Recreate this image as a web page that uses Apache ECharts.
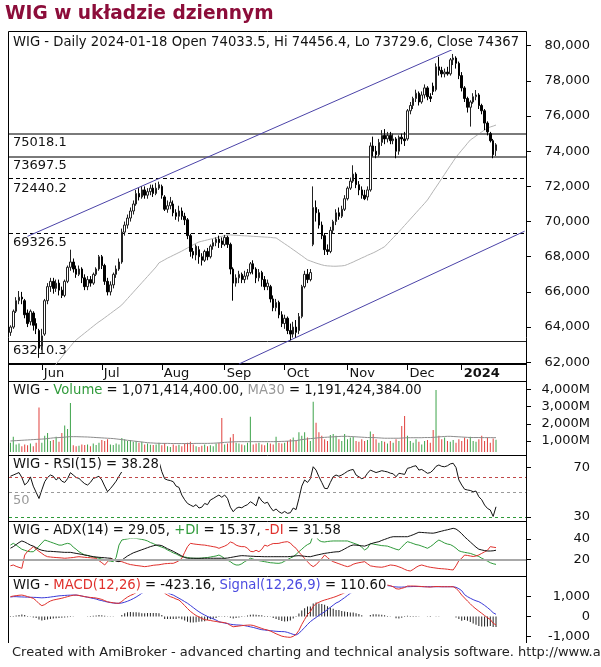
<!DOCTYPE html>
<html><head><meta charset="utf-8">
<script src="https://cdn.jsdelivr.net/npm/echarts@6/dist/echarts.min.js"></script>
<style>html,body{margin:0;padding:0;background:#fff}#c{width:601px;height:667px}</style>
</head><body><div id="c"></div>
<script>
const FONT = 'DejaVu Sans';
// ---- calendar (GPW trading days) ----
const startDate = '2023-05-17';
const holidays = ['2023-06-08','2023-08-15','2023-11-01','2023-12-25','2023-12-26','2024-01-01'];
const slotCount = 181; // 171 sessions + empty space on the right
function buildDates(start, count, skip){
  const out=[]; const d=new Date(start+'T00:00:00Z');
  while(out.length<count){const s=d.toISOString().slice(0,10);const wd=d.getUTCDay();
    if(wd!==0&&wd!==6&&skip.indexOf(s)<0) out.push(s); d.setUTCDate(d.getUTCDate()+1);}
  return out;
}
const dates = buildDates(startDate, slotCount, holidays);

// ---- price candles [open, close, low, high] ----
const candles = [
[63700,64000,63500,64100],[64000,64900,63900,65000],[64900,65500,64800,65700],[65500,65700,65300,66050],[65700,65600,65300,66000],
[65500,64700,64500,65600],[64800,64200,64000,65000],[64300,64900,64100,65000],[64800,64100,63800,64900],[64200,63900,63600,64500],
[63800,62800,62250,63900],[62900,63500,62700,63900],[63600,65500,63500,65600],[65500,66300,65300,66500],[66300,66600,66000,66800],
[66600,66200,65900,66800],[66200,66500,66000,66700],[66500,66100,65800,66700],[66100,65800,65650,66300],[65800,66600,65700,66700],
[66600,67400,66500,67500],[67400,67700,67200,68400],[67700,67300,67100,67900],[67300,67000,66800,67500],[67000,67300,66900,67500],
[67300,66800,66500,67400],[66800,66300,66100,67000],[66300,66700,66100,66900],[66700,66500,66300,66900],[66500,67000,66400,67100],
[67000,67300,66900,67400],[67300,68000,67200,68100],[68000,67500,67300,68100],[67500,66600,66400,67600],[66600,66000,65800,66800],
[66000,66400,65800,66600],[66400,67000,66200,67100],[67000,67300,66800,67500],[67300,67700,67200,67900],[67700,69400,67600,69600],
[69400,69800,69200,70000],[69800,70200,69600,70400],[70200,70600,70000,70800],[70600,71000,70400,71200],[71000,71600,70900,71800],
[71600,71400,71200,71900],[71400,71800,71300,72000],[71800,71500,71300,72000],[71500,71700,71300,71900],[71700,71900,71500,72100],
[71900,71600,71400,72100],[71600,71900,71500,72200],[71900,72100,71800,72270],[72000,71500,71300,72100],[71400,70700,70600,71500],
[70700,70900,70500,71200],[70900,71100,70700,71400],[71000,70500,70300,71200],[70500,70300,70100,70700],[70300,70600,70000,70900],
[70600,70300,70100,70800],[70300,70100,69800,70500],[70100,69200,69000,70200],[69200,68300,68000,69300],[68300,68100,67900,68500],
[68100,68600,67800,68700],[68400,68000,67600,68600],[68000,67800,67500,68200],[67800,68300,67700,68400],[68300,68000,67800,68500],
[68000,68600,67900,68700],[68600,68800,68400,69000],[68800,69000,68600,69100],[69000,68800,68500,69200],[68900,68700,68500,69100],
[68700,69100,68600,69240],[69100,68700,68500,69200],[68700,67300,67000,68800],[67300,66500,65500,67400],[66500,66800,66300,67000],
[66800,67000,66500,67200],[67000,66700,66500,67100],[66700,66900,66500,67200],[66900,67100,66700,67300],[67100,67600,67000,67700],
[67600,67300,67000,67800],[67300,66800,66500,67400],[66800,67100,66600,67300],[67100,66700,66300,67200],[66700,66300,66100,66900],
[66300,66500,66100,66700],[66300,65600,65400,66400],[65600,65100,64900,65800],[65100,65400,64900,65600],[65400,64700,64500,65500],
[64700,64200,64000,64900],[64200,64500,63900,64700],[64500,63800,63600,64600],[63800,63600,63250,64200],[63600,64000,63400,64300],
[64000,63700,63400,64400],[63800,64600,63600,64800],[64600,66300,64500,66400],[66300,67000,66200,67200],[67000,66700,66500,67300],
[66700,67100,66600,67300],[68700,70800,68600,72000],[70800,70500,70000,71200],[70500,69800,69600,70700],[69800,69200,69000,70000],
[69200,68400,68100,69300],[68400,68300,68100,68700],[68300,69500,68200,69700],[69500,70000,69300,70100],[70000,70500,69800,70700],
[70500,70300,70100,70800],[70300,70700,70200,70900],[70700,71300,70600,71500],[71300,71900,71200,72000],[71900,72300,71800,72500],
[72300,72700,72200,73200],[72700,72100,71900,72800],[72100,71800,71500,72300],[71800,71500,71300,72000],[71500,71300,71220,71800],
[71400,71800,71200,72000],[71800,74300,71700,74500],[74300,74000,73700,74830],[74000,73800,73600,74300],[73800,74500,73700,74700],
[74500,74900,74300,75200],[74900,74700,74400,75260],[74700,74900,74500,75100],[74900,74600,74400,75100],[74600,74700,74400,75000],
[74700,74000,73600,74800],[74000,74800,73800,74900],[74800,74700,74400,75000],[74700,74600,74300,75100],[74700,76300,74600,76400],
[76300,76600,76100,76800],[76600,77000,76400,77100],[77000,77300,76800,77500],[77300,76800,76600,77400],[76800,77200,76700,77400],
[77200,77600,77000,77800],[77600,77100,76900,77700],[77100,77000,76800,77300],[77700,77400,77200,77900],[77500,78800,77400,79000],
[78800,78600,78300,79370],[78600,78400,78200,78800],[78400,78500,78200,78700],[78500,78400,78300,78800],[78400,79200,78300,79300],
[79200,79300,78900,79530],[79300,79000,78700,79400],[79000,78300,78100,79100],[78300,77600,77400,78500],[77600,77000,76800,77700],
[77000,76500,76200,77100],[76500,76800,75400,76900],[76800,77100,76700,77300],[77100,77200,76900,77480],[77200,76600,76400,77300],
[76600,76300,76100,76700],[76300,75600,75200,76400],[75600,75100,74900,75700],[75000,74600,74500,75100],[74600,73800,73600,74700],
[74033.5,74367,73729.6,74456.4]
];
// gray moving average on the price panel
const priceMA = [
59000,59200,59400,59600,59800,60000,60200,60400,60600,60800,61000,61150,61300,61450,61600,61750,61900,62100,62300,62500,
62700,62900,63100,63270,63400,63530,63660,63790,63920,64050,64180,64300,64410,64530,64650,64770,64890,65010,65130,65260,
65440,65620,65800,65980,66160,66340,66520,66700,66880,67060,67240,67420,67650,67740,67830,67920,68000,68080,68160,68240,
68320,68410,68500,68590,68680,68760,68840,68880,68920,68960,69000,69040,69080,69120,69160,69200,69240,69240,69230,69220,
69210,69200,69190,69180,69170,69160,69150,69140,69130,69120,69110,69100,69080,69070,68960,68850,68740,68630,68520,68400,
68290,68170,68060,67940,67820,67760,67700,67640,67590,67540,67500,67480,67470,67460,67460,67470,67480,67500,67560,67630,
67700,67780,67850,67930,68000,68080,68150,68220,68300,68390,68480,68570,68740,68910,69080,69250,69420,69600,69780,69960,
70140,70320,70500,70680,70860,71040,71230,71470,71720,71960,72200,72450,72690,72940,73180,73420,73670,73860,74060,74250,
74450,74640,74750,74870,74980,75100,75210,75320,75380,75430,75490
];
// volume, millions
const volume = [
900,1250,800,850,700,800,750,850,700,900,2940,
900,1300,1470,1000,1050,1250,950,1470,1900,1700,3200,750,700,720,800,760,800,700,850,760,900,
1050,1000,1100,800,760,850,800,1170,1100,1000,1050,950,1000,900,950,800,850,780,760,800,900,
750,880,700,650,800,720,780,700,850,900,950,800,700,650,720,800,700,750,700,850,900,2340,
800,850,1200,1400,900,850,800,750,900,2400,800,850,900,800,750,900,850,800,1250,900,850,
900,1000,1100,1200,1000,1500,1300,1500,1200,1000,3280,2060,1500,1300,1100,1000,1350,1400,1300,1100,1000,1400,
1100,1200,1250,1000,950,1100,1000,1050,1550,1400,1100,900,1000,950,850,1000,900,1100,1000,1870,2450,
1300,1000,900,1100,950,800,1000,1050,900,1640,3960,1300,1100,1200,1000,950,1050,900,1100,
1000,1200,1100,1250,1000,950,1100,1300,1000,1200,900,1150,1071.4144
];
const volumeMA30 = [
1000,1010,1020,1030,1040,1050,1060,1070,1080,1090,1100,1110,1120,1140,1160,1180,1190,1200,1210,1220,1240,
1250,1250,1250,1245,1240,1235,1230,1220,1210,1200,1190,1180,1170,1160,1150,1140,1120,1100,1080,1060,
1040,1020,1000,980,960,940,920,900,890,880,870,865,860,860,860,855,850,850,850,850,
850,850,850,855,860,860,860,860,860,865,870,880,890,900,920,930,940,950,955,960,
960,960,960,960,960,960,960,960,960,960,960,960,965,970,975,980,990,1000,1010,1020,
1050,1080,1100,1120,1140,1150,1170,1190,1200,1210,1220,1230,1240,1250,1260,1270,1270,1270,1260,1250,
1240,1230,1220,1210,1200,1200,1200,1190,1180,1170,1160,1160,1160,1160,1160,1160,1170,1180,1190,1190,
1190,1190,1190,1190,1200,1200,1200,1210,1220,1240,1250,1260,1270,1270,1260,1250,1240,1230,1220,1210,
1200,1200,1200,1200,1195,1195,1195,1195,1192,1191.4244
];
const rsi = [
63,64,65,66,62,56,58,62.5,55,50,45,52,58.6,62,64,63,60,62,59,58,61,65.9,64,62,61.3,59,57,55.9,58,61.3,62,63,
60,55,50.5,53,55.9,59,63,66.7,69,71,72,73,75,74,75,73,74,75,73,74,75,
66.7,61,60,59.5,58.6,55,54,47.8,44,41,39.7,38.5,40,37.3,38,41,40,43.8,45,46.5,47.8,46,
47.8,45,38,34.3,37,38,37.5,39,40,42.4,41,39,46.4,43,41.1,42,38,35,36.5,34.3,33,
34.5,33,33.5,37.3,36,45,55,60,58,61,70.7,68,62.6,58,53.2,53,58,62.6,64,63,64,65.4,
67,68,68.5,64,62.6,61,62,65.4,68,67,66,66.7,67.5,67,66.5,65.5,65,62.6,65.4,65,64.5,
69.4,70,71,71.5,68,68.5,67,65.4,66,68,71,72.1,71,70.7,71.5,73,73.5,70,60,
55.9,52.5,51.9,51.5,50.5,51,46.4,44,39.7,37,35.7,30.5,38.28
];
const adx = [
31,32.5,34.5,36.5,38,37,35.5,34,33,31.5,30,29,28.5,28,28,27.8,27.6,27.4,27.2,27,27,27,26.5,26,25.5,25,24.5,24,23.4,22.8,22.5,22.2,
22,21.8,21.5,21.3,20,18.5,18,19.5,21.5,23.5,25,26.5,27.5,28.5,29.5,30.5,31.5,32.5,33.3,34,34,
33.5,32,30.5,29.3,28,26.5,25,23.5,22,21.3,21.3,21.3,21.2,21.2,21.2,21.3,21.3,21.3,21.3,21.3,21.3,21.3,
21.3,21.5,22,22.5,23,23.5,23.8,23.7,23.5,23.3,23.2,23,23,22.9,22.8,22.8,22.8,22.8,22.8,22.8,22.8,
22.8,22.8,23,23.3,23.6,23.8,23.5,23.2,22.9,22.8,23.5,24.2,24.8,25.4,26,26.4,26.8,27.2,27.5,27.6,28.8,30.3,
31.8,33.3,34.1,34,33.6,33.3,33,34,35,36,36.7,37.3,38.5,39.5,40.5,41.5,42.1,42.1,42.1,42.1,42.1,
42.1,43,44,45.2,46.4,46.2,46,45.8,45.6,45.5,46,46.8,47.5,48.2,48.8,49.5,50.2,49.5,47.5,
45,42,39.5,37,34.5,32,30,29.3,28.7,28.3,28.3,28.5,29.05
];
const plusDI = [
34,35.7,34,32,30,29,28,27.6,27.6,30,33,36,38.9,38,37,36,35,34,34,35,35.7,35,32,30,27.6,26,24.4,24,23,22.5,22,21.3,
20.5,20,19,18.5,18,22,34,38.9,39.5,40,40.5,40.6,40.5,40,39.5,38.9,38,36.5,35.5,34,33,
32,31,29.3,28,26.5,25.5,24,22.8,22.5,22,21.5,21.3,21.3,21.3,21.5,21.8,22,22.5,23,23.5,24.4,23,
21,19.5,18,16,14.8,14.8,16,18,19.5,21.3,20.5,19.5,19,18.5,18,17.5,17,16.8,16.5,16.4,17,
18.5,20,21.5,22.8,25,27.6,30,32.5,34.5,35.8,44,42,38.5,37.3,37,37.5,37.8,38,38,38,38,38,
38,37,36,35,34.1,32,29.3,31,35.7,35,34.5,34,33.5,33.3,33,32,31,30,29.3,32,35,
37.3,36.5,35.5,34.5,34,33,32,30.9,32.5,34.5,37,38.9,37.5,36,35,34.5,33,31,28.5,
27.6,27,26.5,26,25,24,23,21.3,20,18.5,17,16,15.37
];
const minusDI = [
14,14.8,13.5,12.5,11.6,24.4,28,30,32.5,30,28,26,24,22.8,22.5,22.2,22,21.8,21.6,21.3,21.5,21.8,22,22.5,22.8,22.5,22.2,22,21.8,21.5,21.3,19,
17,14.8,18,21.3,20,19,18.5,18,17,16,15.2,14.8,14.3,14,13.6,13.2,13.5,14,14.5,14.8,15,
15.5,16,16.2,16.4,16.4,17.5,19,21.3,27,32.5,35.7,35.2,34.8,34.5,34.2,34,33.5,33,32.5,32,30.9,32,
33,34.5,37,36,34,33,32.5,32.5,31,28,27.6,29,27.6,30,34,33,34.5,35.5,35.5,35.7,36.5,
37,37.3,36,33,30.9,27,24.4,21,18,15,13.2,15,18,21,24.4,22,19.6,18,17,16,15,14,
13.2,14,15.5,16.4,17,17.5,18,16,14,13.5,13,12.8,12.6,13.2,14,14.8,14.5,14,13,12,10.6,
9.5,9,10.5,12.5,14,14.8,14,13.2,12.6,12.2,11.8,11.4,11.2,11,10.7,10.3,10,14,19,
21.3,24.4,24,23.5,23,23.5,24.5,26,27.5,29,32.5,32,31.58
];
const macd = [
1000,1030,1050,1070,1080,1050,1000,960,915,800,650,545,600,700,780,830,860,890,920,960,1000,1040,1070,1080,1060,1030,1000,980,960,950,930,900,
860,800,740,715,690,670,665,760,880,980,1060,1120,1200,1270,1335,1420,1500,1560,1600,1620,1600,
1480,1170,1080,1000,950,880,830,700,550,400,260,150,50,-20,-100,-160,-180,-200,-230,-250,-280,-290,
-310,-350,-450,-515,-500,-480,-460,-445,-435,-430,-450,-500,-550,-600,-650,-680,-730,-800,-870,-930,-990,
-1020,-1040,-1050,-1000,-900,-700,-400,-150,100,240,500,650,715,780,830,870,915,960,1010,1070,1130,1200,
1290,1370,1450,1490,1500,1480,1450,1470,1560,1620,1640,1650,1640,1620,1580,1550,1500,1400,1380,1420,1460,
1535,1535,1535,1530,1520,1510,1500,1490,1480,1500,1510,1510,1500,1500,1500,1500,1500,1420,1270,
1080,930,780,640,495,380,270,160,50,-60,-150,-340,-423.16
];
const signal = [
980,1000,1000,990,985,980,975,970,965,960,950,940,950,960,980,1000,1020,1040,1050,1060,1070,1075,1080,1080,1060,1030,1000,970,940,910,880,830,
800,760,730,700,680,665,665,680,720,770,830,900,980,1070,1170,1250,1320,1380,1420,1440,1440,
1400,1300,1200,1130,1080,1000,920,840,750,665,560,450,340,240,150,75,0,-60,-120,-180,-260,-300,
-330,-360,-390,-410,-425,-430,-440,-460,-490,-520,-550,-590,-630,-665,-680,-700,-715,-730,-745,-755,-760,
-765,-800,-850,-900,-930,-850,-700,-560,-400,-260,-150,-50,60,150,240,350,460,570,680,745,850,950,
1060,1170,1250,1320,1380,1420,1450,1470,1490,1510,1530,1545,1555,1560,1555,1540,1500,1490,1480,1480,1490,
1500,1505,1510,1510,1510,1505,1500,1500,1500,1500,1500,1500,1500,1500,1500,1500,1500,1470,1400,
1300,1100,1000,920,850,790,745,660,560,450,330,190,110.6
];
const macdHist = [
20,30,50,80,95,70,25,-10,-50,-80,-150,-200,-180,-150,-120,-100,-90,-80,-60,-50,-40,-20,-10,0,0,0,0,10,20,40,50,70,
60,40,10,15,10,5,0,80,160,210,230,220,220,200,165,170,180,180,180,180,160,
80,-130,-120,-130,-130,-120,-90,-140,-200,-265,-300,-300,-290,-260,-250,-235,-180,-140,-110,-70,-20,10,
20,10,-60,-105,-75,-50,-20,15,55,90,100,90,80,65,30,20,-15,-70,-125,-175,-230,
-255,-240,-200,-100,30,150,300,410,500,500,650,700,655,630,590,520,455,390,330,325,280,250,
230,200,200,170,120,60,0,0,70,110,110,105,85,60,25,10,0,-90,-100,-60,-30,
35,30,25,20,10,5,0,-10,-20,0,10,10,0,0,0,0,0,-50,-130,
-220,-170,-220,-280,-355,-410,-475,-500,-510,-510,-480,-530,-533.8
];
// ---- reference levels, trend channel, ticks ----
const priceLevels = [75018.1, 73697.5, 72440.2, 69326.5, 63210.3];
const channelUpper = [[6, 69160], [155, 79800]];   // [session index, value]
const channelLower = [[80, 61900], [180, 69450]];
const priceTicks = [62000,64000,66000,68000,70000,72000,74000,76000,78000,80000];
const volumeTicks = [1000,2000,3000,4000];
const rsiTicks = [30,70];
const rsiLevels = [62, 50, 30];
const adxTicks = [20,40];
const macdTicks = [-1000,0,1000];
const monthTickDates = ['2023-06-01','2023-07-03','2023-08-01','2023-09-01','2023-10-02','2023-11-02','2023-12-01','2024-01-02'];
const monthTickLabels = ['Jun','Jul','Aug','Sep','Oct','Nov','Dec','2024'];

const tickIdx = {};
monthTickDates.forEach((d,k)=>{tickIdx[dates.indexOf(d)] = monthTickLabels[k];});

const GREEN='#3da34a', RED='#e0403c';
const volData = volume.map((v,i)=>({value:v,itemStyle:{color: candles[i][1]>=candles[i][0]?GREEN:RED}}));

const L=9, W=517;
const grids=[
 {left:L,width:W,top:32,height:332},
 {left:L,width:W,top:382,height:70},
 {left:L,width:W,top:455,height:66},
 {left:L,width:W,top:522,height:55},
 {left:L,width:W,top:577,height:66}
];
function xAx(g){
  if(g===0) return {type:'category',gridIndex:0,data:dates,boundaryGap:true,
    axisLine:{show:true,lineStyle:{color:'#000',width:2}},
    axisTick:{show:true,alignWithLabel:true,length:6,interval:(i)=>tickIdx[i]!==undefined,lineStyle:{color:'#000'}},
    axisLabel:{show:true,interval:(i)=>tickIdx[i]!==undefined,align:'left',margin:3,padding:[0,0,0,2],
      fontFamily:FONT,fontSize:13,color:'#111',
      formatter:(v,i)=>{const t=tickIdx[dates.indexOf(v)]; return t==='2024'?'{b|2024}':(t||'');},
      rich:{b:{fontWeight:'bold',fontFamily:FONT,fontSize:13,color:'#111'}}},
    splitLine:{show:false}};
  return {type:'category',gridIndex:g,data:dates,boundaryGap:true,show:false};
}
function yAx(g,min,max,ticks,fmt){
  return {type:'value',gridIndex:g,position:'right',min:min,max:max,scale:true,
    axisLine:{show:false},splitLine:{show:false},
    axisTick:{show:true,length:5,customValues:ticks,lineStyle:{color:'#000'}},
    axisLabel:{show:true,customValues:ticks,align:'right',margin:64,fontFamily:FONT,fontSize:13,color:'#111',formatter:fmt}};
}
const fmtNum=v=>Number(v).toLocaleString('en-US');

const HF=13.2;
const textBase={fontFamily:FONT,fontSize:HF,color:'#111',lineHeight:15};
function hdr(text,top,rich){
  return {text:text,left:12,top:top,padding:[0,1],backgroundColor:'#fff',
    textStyle:Object.assign({},textBase,{fontWeight:'normal',rich:rich||{}}),z:10};
}
const R = c=>({fontFamily:FONT,fontSize:HF,color:c,lineHeight:15});

const levelStyles=[
 {color:'#7a7a7a',width:2,type:'solid'},{color:'#7a7a7a',width:2,type:'solid'},
 {color:'#000',width:1,type:[4,3]},{color:'#000',width:1,type:[4,3]},{color:'#222',width:1,type:'solid'}];

const option={
  animation:false,
  backgroundColor:'#fff',
  grid:grids,
  xAxis:[0,1,2,3,4].map(xAx),
  yAxis:[
    yAx(0,61900,80780,priceTicks,fmtNum),
    yAx(1,360,4424,volumeTicks,v=>fmtNum(v)+'M'),
    yAx(2,26.8,80.2,rsiTicks,v=>String(v)),
    yAx(3,3.2,56.3,adxTicks,v=>String(v)),
    yAx(4,-1335,1990,macdTicks,fmtNum)
  ],
  title:[
    {text:'WIG w układzie dziennym',left:5,top:3,padding:0,textStyle:{fontFamily:FONT,fontSize:18.6,fontWeight:'bold',color:'#8c0d3a',lineHeight:22}},
    hdr('WIG - Daily 2024-01-18 Open 74033.5, Hi 74456.4, Lo 73729.6, Close 74367',35),
    hdr('{k|WIG - }{g|Volume}{k| = 1,071,414,400.00, }{s|MA30}{k| = 1,191,424,384.00}',383.5,{k:R('#111'),g:R('#2f9a3a'),s:R('#999')}),
    hdr('WIG - RSI(15) = 38.28',457),
    hdr('{k|WIG - ADX(14) = 29.05, }{g|+DI}{k| = 15.37, }{r|-DI}{k| = 31.58}',523.5,{k:R('#111'),g:R('#2f9a3a'),r:R('#e0302c')}),
    hdr('{k|WIG - }{r|MACD(12,26)}{k| = -423.16, }{b|Signal(12,26,9)}{k| = 110.60}',578.5,{k:R('#111'),r:R('#e0302c'),b:R('#4b4be0')}),
    {text:'Created with AmiBroker - advanced charting and technical analysis software. http://www.amibroker.com',left:12,top:645.5,padding:0,
      textStyle:{fontFamily:FONT,fontSize:13,color:'#222',fontWeight:'normal',lineHeight:15}}
  ],
  graphic:[
    {type:'polyline',shape:{points:[[8.5,643],[8.5,31.5],[526.5,31.5],[526.5,643]]},style:{stroke:'#000',lineWidth:1,fill:null},z:20,silent:true},
    {type:'line',shape:{x1:8.5,y1:381.5,x2:526.5,y2:381.5},style:{stroke:'#000',lineWidth:1},z:20,silent:true},
    {type:'line',shape:{x1:8.5,y1:455.5,x2:526.5,y2:455.5},style:{stroke:'#000',lineWidth:1},z:20,silent:true},
    {type:'line',shape:{x1:8.5,y1:521.5,x2:526.5,y2:521.5},style:{stroke:'#000',lineWidth:1},z:20,silent:true},
    {type:'line',shape:{x1:8.5,y1:576.5,x2:526.5,y2:576.5},style:{stroke:'#000',lineWidth:1},z:20,silent:true}
  ],
  series:[
    {type:'line',xAxisIndex:0,yAxisIndex:0,data:priceMA,symbol:'none',z:3,silent:true,
      lineStyle:{color:'#b4b4b4',width:1},
      markLine:{silent:true,symbol:['none','none'],animation:false,
        label:{show:true,position:'insideStartBottom',distance:[4,3],fontFamily:FONT,fontSize:13,color:'#111',formatter:'{b}'},
        data:priceLevels.map((v,k)=>({yAxis:v,name:String(v),lineStyle:levelStyles[k]})).concat([
          [{coord:[dates[channelUpper[0][0]],channelUpper[0][1]],lineStyle:{color:'#4b43a8',width:1,type:'solid'},label:{show:false}},
           {coord:[dates[channelUpper[1][0]],channelUpper[1][1]]}],
          [{coord:[dates[channelLower[0][0]],channelLower[0][1]],lineStyle:{color:'#4b43a8',width:1,type:'solid'},label:{show:false}},
           {coord:[dates[channelLower[1][0]],channelLower[1][1]]}]
        ])}},
    {type:'candlestick',xAxisIndex:0,yAxisIndex:0,data:candles,barWidth:2,z:5,silent:true,
      itemStyle:{color:'#fff',color0:'#000',borderColor:'#222',borderColor0:'#000',borderWidth:1}},
    {type:'bar',xAxisIndex:1,yAxisIndex:1,data:volData,barWidth:1,silent:true},
    {type:'line',xAxisIndex:1,yAxisIndex:1,data:volumeMA30,symbol:'none',silent:true,lineStyle:{color:'#8c8c8c',width:1}},
    {type:'line',xAxisIndex:2,yAxisIndex:2,data:rsi,symbol:'none',silent:true,lineStyle:{color:'#111',width:1},
      markLine:{silent:true,symbol:['none','none'],animation:false,
        data:[
          {yAxis:rsiLevels[0],lineStyle:{color:'#c04848',width:1,type:[3,3]},label:{show:false}},
          {yAxis:rsiLevels[1],name:'50',lineStyle:{color:'#9a9a9a',width:1,type:[3,3]},
            label:{show:true,position:'insideStartBottom',distance:[4,2],formatter:'{b}',fontFamily:FONT,fontSize:13,color:'#999'}},
          {yAxis:rsiLevels[2],lineStyle:{color:'#2f9a3a',width:1,type:[3,3]},label:{show:false}}
        ]}},
    {type:'line',xAxisIndex:3,yAxisIndex:3,data:adx,symbol:'none',silent:true,z:4,lineStyle:{color:'#111',width:1},
      markLine:{silent:true,symbol:['none','none'],animation:false,
        data:[{yAxis:20,lineStyle:{color:'#a8a8a8',width:2,type:'solid'},label:{show:false}}]}},
    {type:'line',xAxisIndex:3,yAxisIndex:3,data:plusDI,symbol:'none',silent:true,z:3,lineStyle:{color:'#2f9a3a',width:1}},
    {type:'line',xAxisIndex:3,yAxisIndex:3,data:minusDI,symbol:'none',silent:true,z:3,lineStyle:{color:'#e0302c',width:1}},
    {type:'bar',xAxisIndex:4,yAxisIndex:4,data:macdHist,barWidth:1,silent:true,itemStyle:{color:'#222'}},
    {type:'line',xAxisIndex:4,yAxisIndex:4,data:signal,symbol:'none',silent:true,lineStyle:{color:'#3a3ad8',width:1}},
    {type:'line',xAxisIndex:4,yAxisIndex:4,data:macd,symbol:'none',silent:true,lineStyle:{color:'#e0302c',width:1}}
  ]
};
const chart=echarts.init(document.getElementById('c'),null,{renderer:'canvas'});
chart.setOption(option);
</script></body></html>
